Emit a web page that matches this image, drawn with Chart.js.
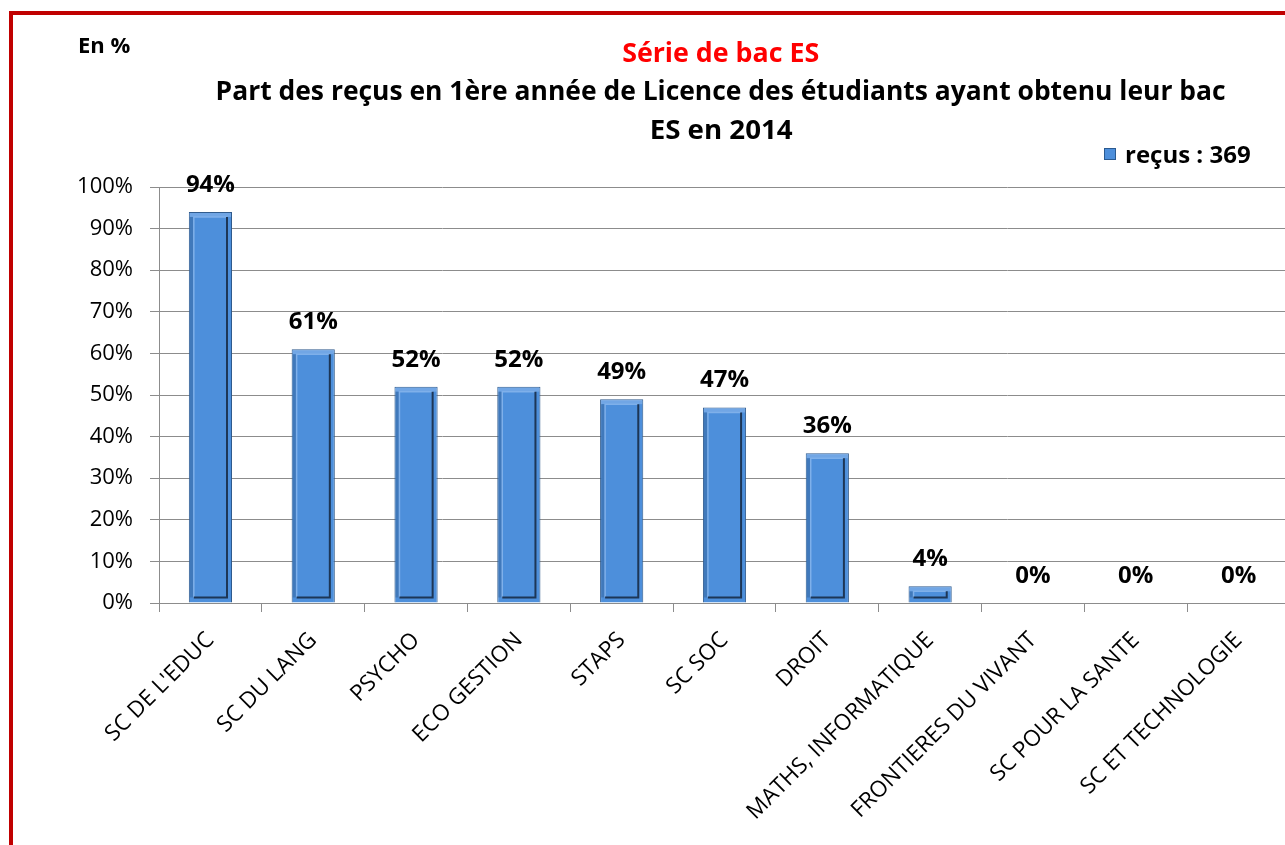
<!DOCTYPE html>
<html>
<head>
<meta charset="utf-8">
<script src="https://cdn.jsdelivr.net/npm/chart.js@4/dist/chart.umd.min.js"></script>
<style>
  body { margin: 0; background: #fff; overflow: hidden; font-family: "Open Sans", sans-serif; }
  #frame { position: absolute; left: 9px; top: 11px; width: 1400px; height: 1000px; border: 4px solid #c00000; box-sizing: border-box; }
  #wrap { position: absolute; left: 0; top: 0; width: 1292px; height: 845px; }
  .txt { position: absolute; font-weight: bold; white-space: nowrap; }
  .ttl { left: 0; width: 1442px; text-align: center; font-size: 26px; line-height: 26px; }
  .ttl span { display: inline-block; transform-origin: center; }
  #enpct { left: 78px; top: 33px; font-size: 22px; line-height: 22px; }
  #t1 { top: 39px; color: #ff0000; }
  #t2 { top: 77px; }
  #t3 { top: 116px; }
  #legend { left: 1104px; top: 142px; font-size: 24px; line-height: 24px; }
  #legend i { display: inline-block; width: 10px; height: 10px; background: #4d8fdb; border: 1px solid #2a5a90; margin-right: 9px; vertical-align: 3px; }
</style>
</head>
<body>
<div id="frame"></div>
<div id="wrap"><canvas id="c" width="1292" height="845"></canvas></div>
<div class="txt" id="enpct">En %</div>
<div class="txt ttl" id="t1"><span>Série de bac ES</span></div>
<div class="txt ttl" id="t2"><span>Part des reçus en 1ère année de Licence des étudiants ayant obtenu leur bac</span></div>
<div class="txt ttl" id="t3"><span>ES en 2014</span></div>
<div class="txt" id="legend"><i></i>reçus : 369</div>
<script>
const categories = [
  "SC DE L'EDUC",
  "SC DU LANG",
  "PSYCHO",
  "ECO GESTION",
  "STAPS",
  "SC SOC",
  "DROIT",
  "MATHS, INFORMATIQUE",
  "FRONTIERES DU VIVANT",
  "SC POUR LA SANTE",
  "SC ET TECHNOLOGIE"
];
const recusPct = [94, 61, 52, 52, 49, 47, 36, 4, 0, 0, 0];
const seriesLabel = "reçus : 369";

const FONT = "'Open Sans', sans-serif";

// titles are a bit wider in the original, stretch them to the same width
function fitWidth(id, target) {
  const s = document.querySelector("#" + id + " span");
  const w = s.getBoundingClientRect().width;
  s.style.transform = "scaleX(" + (target / w) + ")";
}
fitWidth("t1", 197);
fitWidth("t2", 1010);
fitWidth("t3", 143);

// excel-ish bevel on each bar + value labels on top
const bevelPlugin = {
  id: "bevel",
  afterDatasetsDraw(chart) {
    const ctx = chart.ctx;
    const meta = chart.getDatasetMeta(0);
    meta.data.forEach((bar, i) => {
      const w = bar.width;
      const l = bar.x - w / 2, r = bar.x + w / 2;
      const t = bar.y, b = bar.base;
      const h = b - t;
      if (h > 1) {
        const ins = Math.min(5, h / 3);
        ctx.save();
        ctx.fillStyle = "rgba(150,190,240,0.5)";
        ctx.fillRect(l + 1, t + 1, w - 2, ins - 1);
        ctx.fillStyle = "rgba(40,80,130,0.35)";
        ctx.fillRect(l + 1, t + ins, ins - 1, h - 2 * ins);
        ctx.lineWidth = 1.5;
        ctx.strokeStyle = "#7fb0ea";
        ctx.beginPath();
        ctx.moveTo(l + ins, b - ins);
        ctx.lineTo(l + ins, t + ins);
        ctx.lineTo(r - ins, t + ins);
        ctx.stroke();
        ctx.strokeStyle = "#1d3656";
        ctx.lineWidth = 2;
        ctx.beginPath();
        ctx.moveTo(r - ins, t + ins);
        ctx.lineTo(r - ins, b - ins);
        ctx.lineTo(l + ins, b - ins);
        ctx.stroke();
        ctx.restore();
      }
      ctx.save();
      ctx.fillStyle = "#000";
      ctx.font = "bold 24px " + FONT;
      ctx.textAlign = "center";
      ctx.textBaseline = "middle";
      ctx.fillText(recusPct[i] + "%", bar.x, bar.y - 27);
      ctx.restore();
    });
  }
};

new Chart(document.getElementById("c"), {
  type: "bar",
  data: {
    labels: categories,
    datasets: [{
      label: seriesLabel,
      data: recusPct,
      backgroundColor: "#4d8fdb",
      borderColor: "#2f5a8c",
      borderWidth: 1,
      categoryPercentage: 1.0,
      barPercentage: 0.42
    }]
  },
  options: {
    responsive: false,
    animation: false,
    layout: { padding: { top: 187, right: 2, left: 0, bottom: 0 } },
    plugins: {
      legend: { display: false },
      tooltip: { enabled: false }
    },
    scales: {
      y: {
        min: 0,
        max: 100,
        ticks: {
          stepSize: 10,
          color: "#000",
          padding: 17,
          font: { family: FONT, size: 22 },
          callback: v => v + "%"
        },
        grid: { color: "#8c8c8c", tickLength: 9, lineWidth: 1 },
        border: { color: "#8c8c8c" },
        afterFit(scale) { scale.width = 159; }
      },
      x: {
        ticks: {
          color: "#000",
          minRotation: 45,
          maxRotation: 45,
          autoSkip: false,
          padding: 15,
          font: { family: FONT, size: 22.5 }
        },
        grid: { offset: true, drawOnChartArea: false, tickLength: 9, color: "#8c8c8c" },
        border: { color: "#8c8c8c" },
        afterFit(scale) { scale.height = 845 - 603; }
      }
    }
  },
  plugins: [bevelPlugin]
});
</script>
</body>
</html>
